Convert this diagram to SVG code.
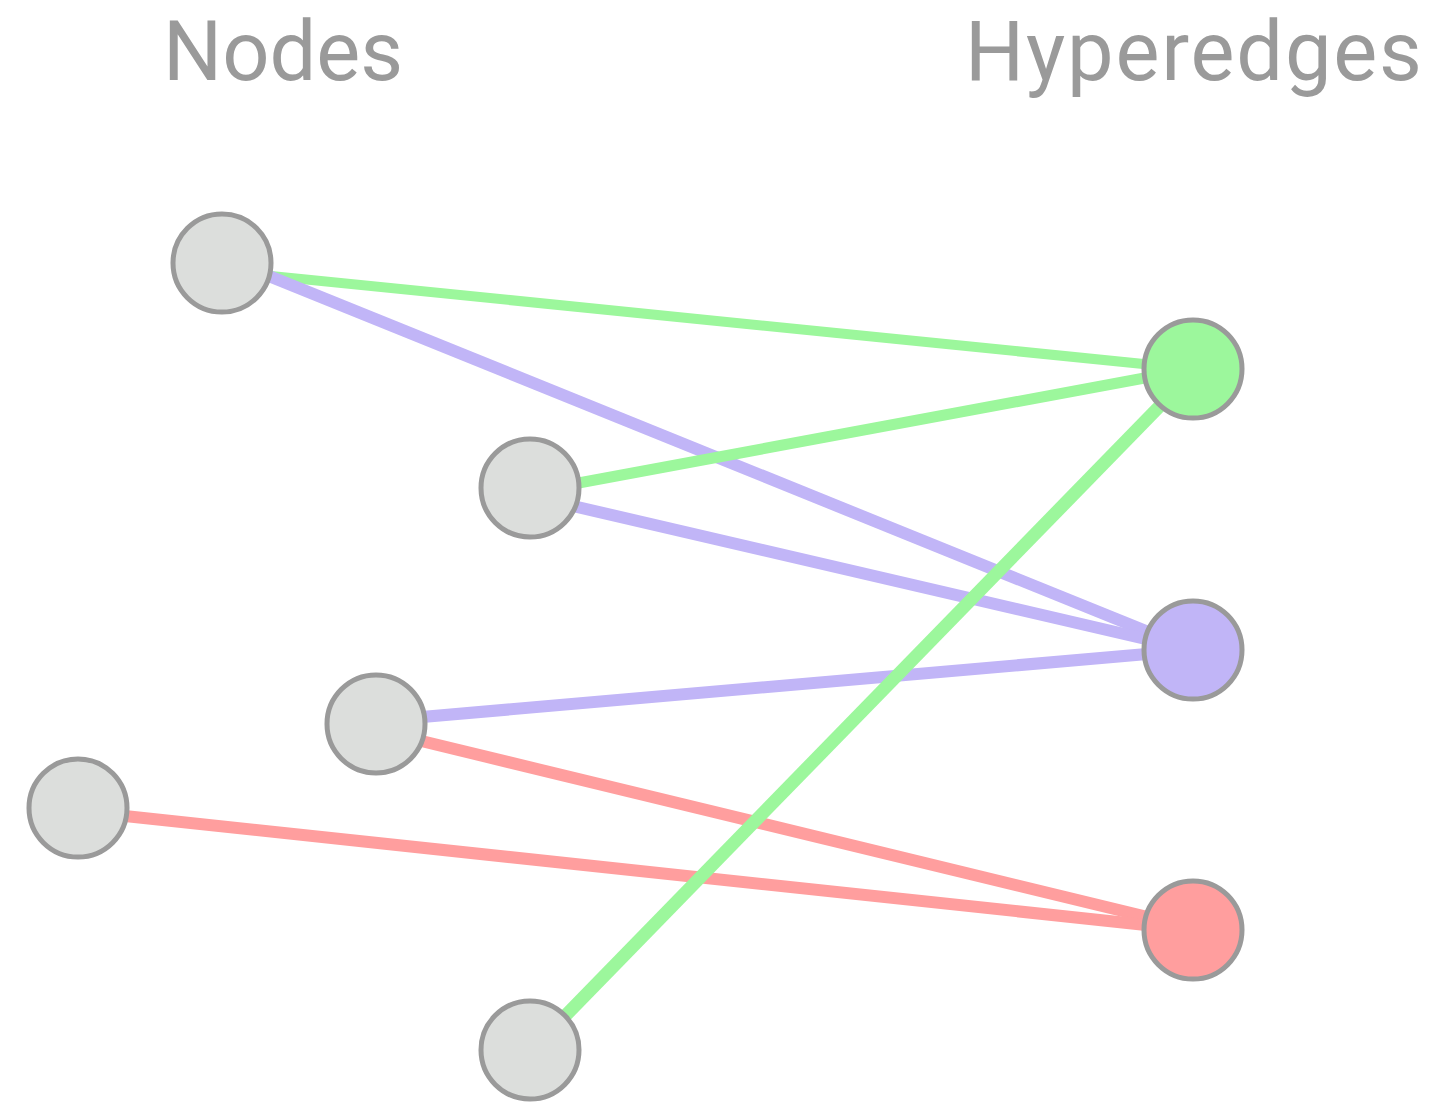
<svg xmlns="http://www.w3.org/2000/svg" width="1439" height="1102" viewBox="0 0 1439 1102">
<style>
.title{font-family:Roboto,"Liberation Sans",sans-serif;font-size:83px;fill:#9a9a9a}
.n{stroke:#9a9a9a;stroke-width:5}
.plain{fill:#dcdedc}
.e{fill:none;stroke-width:12;stroke-linecap:butt}
.g{stroke:#9cf79c}
.p{stroke:#c1b5f7}
.r{stroke:#ff9e9e}
</style>
<rect width="1439" height="1102" fill="#ffffff"/>
<text class="title" x="163" y="80">Nodes</text>
<text class="title" x="965" y="80" letter-spacing="1.8">Hyperedges</text>
<g id="connectors">
<line class="e g" style="stroke-width:10" x1="222" y1="271" x2="1193" y2="369"/>
<line class="e p" x1="222" y1="257" x2="1193" y2="650"/>
<line class="e g" style="stroke-width:11" x1="530" y1="492" x2="1193" y2="369"/>
<line class="e p" x1="530" y1="496" x2="1193" y2="650"/>
<line class="e p" x1="376" y1="721" x2="1193" y2="650"/>
<line class="e r" x1="376" y1="730" x2="1193" y2="928"/>
<line class="e r" x1="78" y1="811" x2="1193" y2="930"/>
<line class="e g" style="stroke-width:13" x1="530" y1="1052" x2="1193" y2="372"/>
</g>
<g id="node1"><circle class="n plain" cx="222" cy="263" r="49"/></g>
<g id="node2"><circle class="n plain" cx="530" cy="488" r="49"/></g>
<g id="node3"><circle class="n plain" cx="376" cy="724" r="49"/></g>
<g id="node4"><circle class="n plain" cx="78" cy="808" r="49"/></g>
<g id="node5"><circle class="n plain" cx="530" cy="1050" r="49"/></g>
<g id="hyperedge-green"><circle class="n" fill="#9cf79c" cx="1193" cy="369" r="49"/></g>
<g id="hyperedge-purple"><circle class="n" fill="#c1b5f7" cx="1193" cy="650" r="49"/></g>
<g id="hyperedge-red"><circle class="n" fill="#ff9e9e" cx="1193" cy="930" r="49"/></g>
</svg>
